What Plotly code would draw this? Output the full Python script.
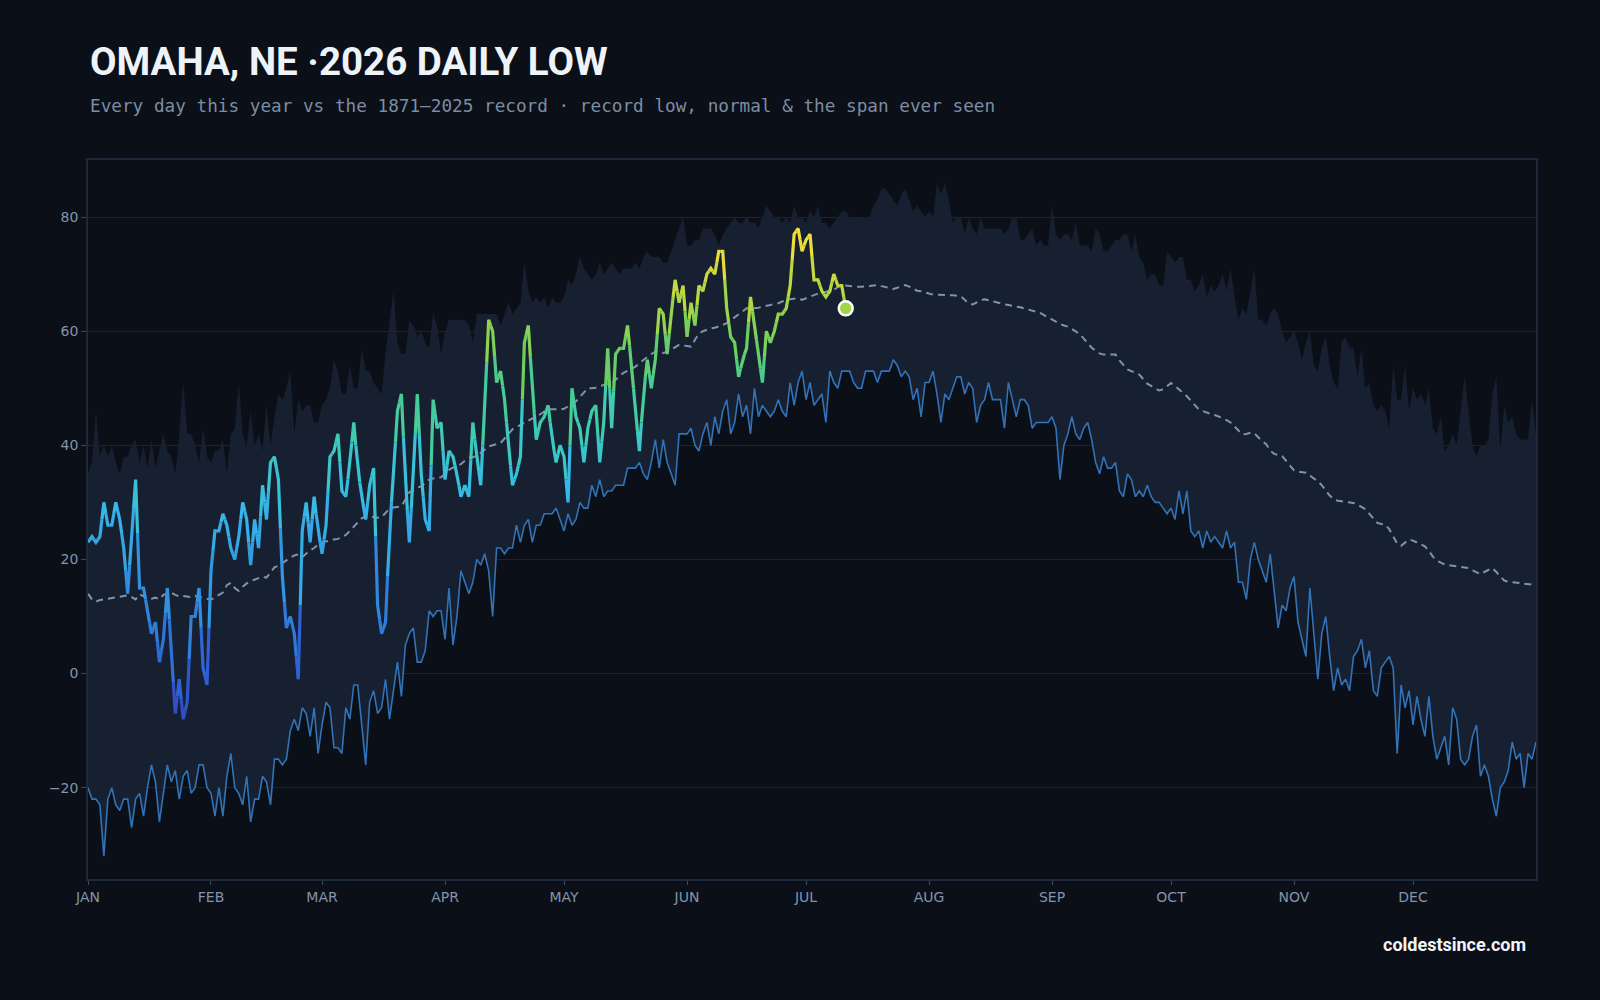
import pandas as pd
import plotly.graph_objects as go

# ---------------- data (°F) ----------------
MONTH_TICKS = ["2026-01-01", "2026-02-01", "2026-03-01", "2026-04-01", "2026-05-01", "2026-06-01",
               "2026-07-01", "2026-08-01", "2026-09-01", "2026-10-01", "2026-11-01", "2026-12-01"]
MONTH_LABELS = ["JAN", "FEB", "MAR", "APR", "MAY", "JUN", "JUL", "AUG", "SEP", "OCT", "NOV", "DEC"]
Y_TICKS = [-20, 0, 20, 40, 60, 80]

# highest daily low ever recorded (top of the span)
record_high = [
    35, 37, 46, 38, 40, 38, 40, 37, 35, 38,
    38, 40, 41, 37, 40, 36, 41, 36, 39, 42,
    39, 38, 35, 42, 51, 42, 42, 40, 37, 43,
    38, 37, 39, 39, 41, 35, 42, 43, 51, 42,
    40, 46, 40, 42, 39, 47, 40, 45, 49, 48,
    50, 53, 42, 48, 46, 47, 47, 44, 44, 47,
    48, 50, 55, 53, 49, 49, 54, 50, 50, 57,
    53, 53, 51, 50, 49, 56, 62, 67, 58, 56,
    56, 62, 61, 59, 60, 58, 57, 63, 61, 56,
    60, 62, 62, 62, 62, 62, 61, 58, 63, 63,
    63, 63, 63, 63, 61, 63, 65, 63, 64, 65,
    72, 67, 65, 66, 65, 66, 64, 66, 65, 65,
    66, 69, 68, 70, 73, 71, 70, 69, 70, 72,
    70, 71, 72, 71, 70, 71, 71, 71, 72, 71,
    73, 74, 73, 73, 73, 72, 72, 74, 76, 78,
    80, 75, 75, 76, 76, 78, 78, 78, 77, 75,
    77, 78, 79, 80, 79, 79, 80, 79, 79, 78,
    80, 82, 81, 80, 80, 79, 80, 79, 82, 80,
    80, 79, 81, 80, 82, 79, 79, 78, 79, 80,
    81, 81, 80, 80, 80, 80, 80, 80, 82, 83,
    85, 85, 84, 83, 82, 84, 85, 83, 81, 82,
    81, 80, 81, 80, 86, 84, 86, 83, 79, 80,
    80, 77, 80, 78, 77, 80, 78, 78, 78, 78,
    78, 77, 78, 80, 80, 76, 76, 77, 78, 75,
    76, 75, 75, 82, 77, 76, 77, 77, 76, 79,
    75, 75, 75, 74, 78, 77, 74, 74, 75, 76,
    76, 77, 77, 74, 77, 73, 72, 69, 70, 70,
    68, 68, 74, 73, 72, 73, 73, 69, 69, 67,
    68, 70, 66, 68, 67, 68, 70, 67, 71, 66,
    62, 64, 63, 67, 71, 62, 62, 61, 63, 64,
    63, 60, 58, 59, 60, 58, 55, 58, 60, 54,
    53, 57, 59, 54, 51, 50, 58, 59, 57, 57,
    52, 57, 50, 51, 47, 46, 47, 46, 43, 54,
    48, 48, 54, 46, 50, 48, 49, 47, 50, 43,
    42, 45, 39, 40, 42, 40, 46, 52, 46, 40,
    38, 40, 40, 41, 49, 52, 39, 47, 44, 45,
    42, 41, 41, 41, 48, 42,
]

# record low
record_low = [
    -20, -22, -22, -23, -32, -22, -20, -23, -24, -22,
    -22, -27, -22, -21, -25, -20, -16, -19, -26, -21,
    -16, -19, -17, -22, -18, -17, -21, -20, -16, -16,
    -20, -21, -25, -20, -25, -18, -14, -20, -21, -23,
    -18, -26, -22, -22, -18, -19, -23, -15, -15, -16,
    -15, -10, -8, -10, -6, -7, -11, -6, -14, -9,
    -5, -6, -13, -13, -14, -6, -8, -2, -2, -9,
    -16, -5, -3, -7, -6, -1, -8, -3, 2, -4,
    5, 7, 8, 2, 2, 4, 11, 10, 11, 11,
    6, 15, 5, 10, 18, 16, 14, 16, 20, 19,
    21, 18, 10, 22, 22, 21, 22, 22, 26, 23,
    26, 27, 23, 26, 26, 28, 28, 28, 29, 27,
    25, 28, 26, 27, 30, 29, 29, 33, 31, 34,
    31, 32, 32, 33, 33, 33, 36, 36, 36, 37,
    35, 34, 37, 41, 36, 41, 37, 35, 33, 42,
    42, 42, 43, 40, 39, 42, 44, 40, 45, 42,
    46, 48, 42, 44, 49, 45, 47, 42, 50, 45,
    47, 46, 45, 46, 48, 46, 45, 51, 47, 51,
    53, 48, 51, 47, 48, 49, 44, 53, 51, 50,
    53, 53, 53, 51, 50, 50, 53, 53, 53, 51,
    53, 53, 53, 55, 54, 52, 53, 52, 48, 50,
    45, 51, 51, 53, 49, 44, 49, 48, 50, 52,
    52, 49, 51, 50, 44, 47, 48, 51, 48, 48,
    48, 43, 51, 48, 45, 48, 48, 47, 43, 44,
    44, 44, 44, 45, 43, 34, 40, 42, 45, 42,
    41, 43, 44, 41, 37, 35, 38, 36, 36, 37,
    32, 31, 35, 34, 31, 32, 31, 33, 31, 30,
    30, 29, 28, 29, 27, 32, 28, 32, 25, 24,
    25, 22, 25, 23, 24, 23, 22, 25, 22, 23,
    16, 16, 13, 20, 23, 20, 18, 16, 21, 15,
    8, 12, 11, 15, 17, 9, 6, 3, 15, 7,
    -1, 7, 10, 3, -3, 1, -2, -1, -3, 3,
    4, 6, 1, 4, -3, -4, 1, 2, 3, 1,
    -14, -2, -6, -3, -9, -4, -8, -11, -4, -11,
    -15, -13, -11, -16, -6, -8, -15, -16, -15, -11,
    -9, -18, -16, -18, -22, -25, -20, -19, -17, -12,
    -15, -14, -20, -14, -15, -12,
]

# normal daily low
normal = [
    14.0, 13.0, 12.6, 12.9, 13.0, 13.1, 13.3, 13.4, 13.5, 13.6,
    13.7, 13.4, 13.0, 13.9, 13.6, 13.2, 13.1, 13.3, 13.0, 13.8,
    14.0, 14.2, 13.8, 13.5, 13.6, 13.5, 13.4, 13.6, 13.4, 13.3,
    13.1, 13.0, 13.3, 13.8, 14.2, 15.5, 15.9, 15.0, 14.5, 15.2,
    15.8, 16.2, 16.5, 16.8, 17.0, 16.8, 17.8, 18.6, 18.9, 19.4,
    19.8, 20.3, 20.7, 20.9, 20.4, 21.0, 21.6, 22.0, 22.6, 23.0,
    23.2, 23.4, 23.5, 23.6, 24.0, 24.3, 25.0, 25.8, 26.5, 27.2,
    27.6, 27.6, 27.4, 27.3, 27.4, 28.2, 28.9, 29.1, 29.2, 29.3,
    30.5, 31.8, 32.2, 32.6, 32.8, 33.4, 34.0, 34.2, 34.3, 34.4,
    35.0, 35.7, 36.1, 36.4, 36.7, 37.3, 37.8, 37.9, 38.2, 38.7,
    39.3, 39.8, 40.0, 40.2, 40.4, 41.2, 42.0, 42.8, 43.2, 43.6,
    44.0, 44.3, 44.7, 45.0, 45.5, 45.9, 46.3, 46.3, 46.2, 46.3,
    46.4, 46.8, 47.2, 47.7, 48.5, 49.3, 50.0, 50.0, 50.1, 50.4,
    50.6, 50.8, 50.9, 51.5, 52.2, 52.7, 53.1, 53.5, 53.8, 54.4,
    55.0, 55.5, 56.0, 56.4, 56.3, 56.2, 56.4, 56.8, 57.3, 57.6,
    57.5, 57.4, 57.3, 58.5, 59.6, 60.0, 60.3, 60.5, 60.6, 60.8,
    61.1, 61.4, 61.9, 62.4, 62.9, 63.5, 64.0, 64.0, 64.0, 64.1,
    64.3, 64.4, 64.6, 64.8, 64.9, 65.2, 65.5, 65.6, 65.7, 65.8,
    65.5, 65.8, 66.1, 66.4, 66.6, 66.7, 66.9, 67.1, 67.3, 67.7,
    68.1, 68.0, 67.9, 67.8, 67.8, 67.8, 67.8, 67.9, 68.0, 68.1,
    67.9, 67.7, 67.5, 67.4, 67.6, 67.9, 68.1, 67.8, 67.4, 67.1,
    67.0, 66.8, 66.6, 66.4, 66.4, 66.4, 66.4, 66.4, 66.3, 66.2,
    66.1, 65.5, 64.8, 64.7, 65.1, 65.4, 65.6, 65.4, 65.2, 65.0,
    64.9, 64.7, 64.6, 64.4, 64.3, 64.2, 64.0, 63.9, 63.7, 63.4,
    63.2, 62.8, 62.4, 62.0, 61.6, 61.3, 61.0, 60.8, 60.4, 59.9,
    59.5, 58.7, 57.9, 57.1, 56.6, 56.1, 55.9, 55.9, 55.9, 55.9,
    54.9, 54.0, 53.3, 53.0, 52.7, 52.4, 51.6, 50.8, 50.4, 50.0,
    49.6, 49.8, 50.4, 50.9, 50.4, 49.8, 49.3, 48.6, 47.8, 47.0,
    46.3, 46.0, 45.7, 45.5, 45.3, 45.1, 44.8, 44.4, 44.0, 43.3,
    42.5, 41.9, 42.0, 42.2, 42.1, 41.4, 40.7, 40.2, 39.1, 38.5,
    38.3, 38.1, 37.3, 36.4, 35.6, 35.4, 35.3, 35.2, 34.7, 34.2,
    33.7, 33.0, 32.0, 31.2, 30.6, 30.3, 30.2, 30.1, 30.0, 29.9,
    29.6, 29.2, 28.8, 28.0, 27.1, 26.4, 26.2, 26.1, 25.3, 24.1,
    22.8, 22.4, 23.0, 23.5, 23.3, 23.0, 22.6, 22.3, 21.5, 20.5,
    19.8, 19.4, 19.1, 19.0, 18.9, 18.8, 18.7, 18.6, 18.5, 18.1,
    17.7, 17.4, 17.8, 18.2, 18.5, 17.8, 17.0, 16.3, 16.1, 16.0,
    15.9, 15.8, 15.7, 15.6, 15.6, 15.5,
]

# 2026 observed daily low (Jan 1 – Jul 11)
low_2026 = [
    23, 24, 23, 24, 30, 26, 26, 30, 27, 22,
    14, 24, 34, 15, 15, 11, 7, 9, 2, 6,
    15, 4, -7, -1, -8, -5, 10, 10, 15, 1,
    -2, 18, 25, 25, 28, 26, 22, 20, 24, 30,
    27, 19, 27, 22, 33, 27, 37, 38, 34, 17,
    8, 10, 7, -1, 25, 30, 23, 31, 25, 21,
    26, 38, 39, 42, 32, 31, 37, 44, 36, 31,
    27, 33, 36, 12, 7, 9, 25, 35, 46, 49,
    34, 23, 35, 49, 35, 27, 25, 48, 43, 44,
    34, 39, 38, 35, 31, 33, 31, 44, 38, 33,
    47, 62, 60, 51, 53, 48, 40, 33, 35, 38,
    58, 61, 50, 41, 44, 45, 47, 41, 37, 40,
    38, 30, 50, 45, 43, 37, 43, 46, 47, 37,
    44, 57, 43, 56, 57, 57, 61, 54, 46, 39,
    49, 55, 50, 55, 64, 63, 56, 63, 69, 65,
    68, 59, 65, 61, 68, 67, 70, 71, 70, 74,
    74, 64, 59, 58, 52, 55, 57, 66, 61, 56,
    51, 60, 58, 60, 63, 63, 64, 68, 77, 78,
    74, 76, 77, 69, 69, 67, 66, 67, 70, 68,
    68, 64,
]

# temperature -> colour stops for the 2026 line
COLOR_STOPS = [(-10, "#3347c2"), (0, "#2f64d6"), (10, "#3080dc"), (20, "#339fe2"),
               (30, "#37b8e8"), (40, "#3bcac2"), (50, "#47cc92"), (58, "#6ecf5e"),
               (66, "#afd742"), (74, "#e8dc3c"), (82, "#f6e040")]

BG = "#0b0f18"
BAND = "#172030"
GRID = "#1a2433"
FRAME = "#1e2a3b"
TICK_TXT = "#8294aa"


def hex_rgb(h):
    h = h.lstrip("#")
    return tuple(int(h[i:i + 2], 16) for i in (0, 2, 4))


def temp_color(v):
    if v <= COLOR_STOPS[0][0]:
        return COLOR_STOPS[0][1]
    for (v0, c0), (v1, c1) in zip(COLOR_STOPS[:-1], COLOR_STOPS[1:]):
        if v0 <= v <= v1:
            t = (v - v0) / (v1 - v0)
            a, b = hex_rgb(c0), hex_rgb(c1)
            return "#%02x%02x%02x" % tuple(round(a[k] + (b[k] - a[k]) * t) for k in range(3))
    return COLOR_STOPS[-1][1]


days = pd.date_range("2026-01-01", periods=len(record_low), freq="D")
fmt = "%Y-%m-%d %H:%M"
xdays = [d.strftime(fmt) for d in days]

fig = go.Figure()

# span ever seen (record low .. record high)
fig.add_trace(go.Scatter(x=xdays, y=record_high, mode="lines",
                         line=dict(width=0, color=BAND), hoverinfo="skip", showlegend=False))
fig.add_trace(go.Scatter(x=xdays, y=record_low, mode="lines", fill="tonexty", fillcolor=BAND,
                         line=dict(width=1.6, color="#3272b6"), showlegend=False))

# normal
fig.add_trace(go.Scatter(x=xdays, y=normal, mode="lines",
                         line=dict(width=2, color="#8392a8", dash="7px,5px"), showlegend=False))

# 2026 line, coloured per day (each day owns the half-segments around it)
n = len(low_2026)
d26 = days[:n]
groups = {}
for i, v in enumerate(low_2026):
    xs, ys = [], []
    if i > 0:
        xs.append((d26[i - 1] + (d26[i] - d26[i - 1]) / 2).strftime(fmt))
        ys.append((low_2026[i - 1] + v) / 2)
    xs.append(d26[i].strftime(fmt))
    ys.append(v)
    if i < n - 1:
        xs.append((d26[i] + (d26[i + 1] - d26[i]) / 2).strftime(fmt))
        ys.append((v + low_2026[i + 1]) / 2)
    col = temp_color(v)
    gx, gy = groups.setdefault(col, ([], []))
    gx.extend(xs + [None])
    gy.extend(ys + [None])

for col, (gx, gy) in groups.items():
    fig.add_trace(go.Scatter(x=gx, y=gy, mode="lines", connectgaps=False,
                             line=dict(width=3.2, color=col), hoverinfo="skip", showlegend=False))

# latest day marker
fig.add_trace(go.Scatter(x=[d26[-1].strftime(fmt)], y=[low_2026[-1]], mode="markers",
                         marker=dict(size=14, color=temp_color(low_2026[-1]),
                                     line=dict(width=2.5, color="#ffffff")),
                         showlegend=False))

fig.update_layout(
    width=1600, height=1000,
    paper_bgcolor=BG, plot_bgcolor=BG,
    margin=dict(l=88, r=64, t=160, b=121),
    showlegend=False,
    font=dict(family="DejaVu Sans", color=TICK_TXT, size=14),
    xaxis=dict(type="date", range=["2026-01-01", "2027-01-01"],
               tickvals=MONTH_TICKS, ticktext=MONTH_LABELS,
               showgrid=False, zeroline=False,
               showline=True, mirror=True, linecolor=FRAME, linewidth=1.5,
               ticks="outside", ticklen=4, tickcolor="#3a4a5e",
               tickfont=dict(family="DejaVu Sans", size=14, color=TICK_TXT)),
    yaxis=dict(range=[-36, 90], tickvals=Y_TICKS,
               showgrid=True, gridcolor=GRID, gridwidth=1.2, zeroline=False,
               showline=True, mirror=True, linecolor=FRAME, linewidth=1.5,
               ticks="outside", ticklen=5, tickcolor="#3a4a5e",
               tickfont=dict(family="DejaVu Sans", size=14, color=TICK_TXT)),
    annotations=[
        dict(text="<b>OMAHA, NE ·2026 DAILY LOW</b>", xref="paper", yref="paper",
             x=0, y=1.137, xanchor="left", yanchor="middle", showarrow=False,
             font=dict(family="Roboto", size=38.5, color="#eef3f8")),
        dict(text="Every day this year vs the 1871–2025 record · record low, normal &amp; the span ever seen",
             xref="paper", yref="paper", x=0, y=1.075, xanchor="left", yanchor="middle",
             showarrow=False, font=dict(family="DejaVu Sans Mono", size=17.7, color="#7d8da3")),
        dict(text="<b>coldestsince.com</b>", xref="paper", yref="paper",
             x=0.9945, y=-0.0905, xanchor="right", yanchor="middle", showarrow=False,
             font=dict(family="Roboto", size=18, color="#f2f5f8")),
    ],
)

fig.write_html("out.html")
